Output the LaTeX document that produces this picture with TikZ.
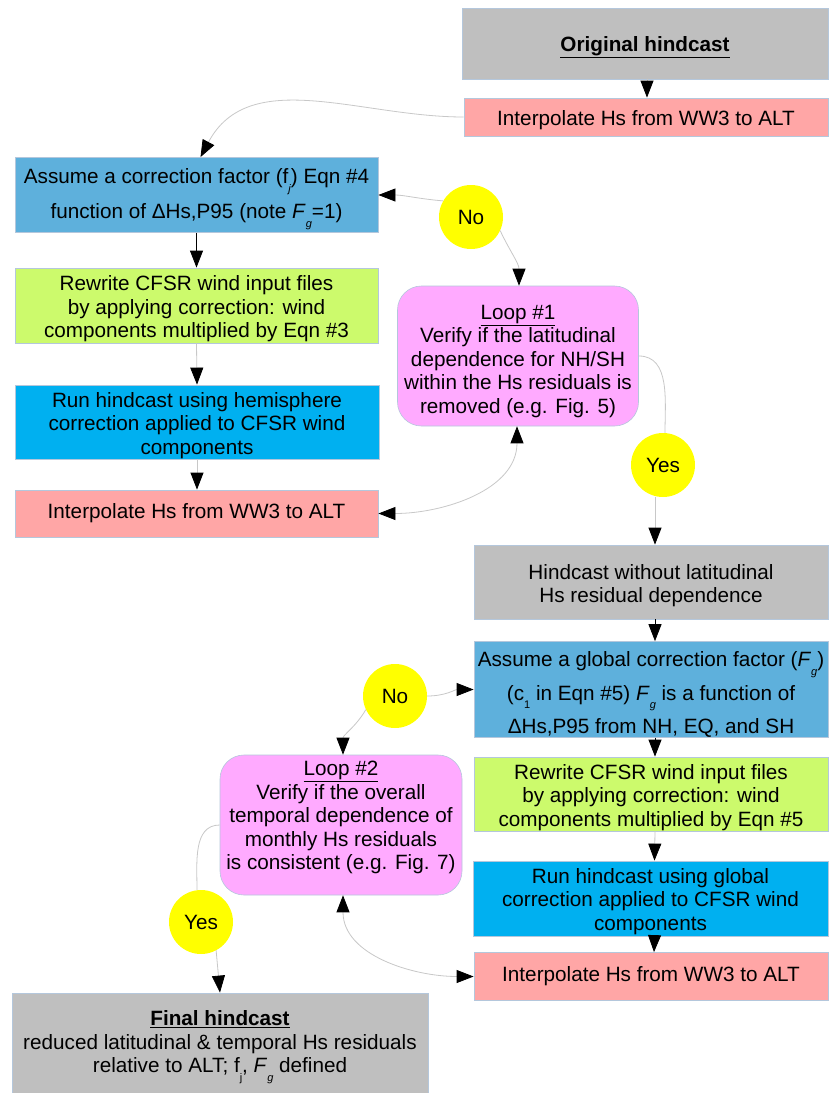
\documentclass[tikz,border=0pt]{standalone}
\usepackage{fontspec}
\setmainfont{Liberation Sans}
\usetikzlibrary{arrows.meta}
\definecolor{bgray}{RGB}{191,191,191}
\definecolor{bpink}{RGB}{255,166,166}
\definecolor{bblue}{RGB}{94,176,220}
\definecolor{bgreen}{RGB}{204,250,108}
\definecolor{bcyan}{RGB}{0,176,240}
\definecolor{bmag}{RGB}{255,170,255}
\definecolor{byel}{RGB}{255,255,0}
\definecolor{edgeblue}{RGB}{180,199,220}
\definecolor{lgray}{RGB}{200,200,200}
\newcommand\subs[1]{\raisebox{-0.42em}{\fontsize{11}{11}\selectfont #1}}
\newcommand\tdn[1]{\rule{0pt}{#1}}
\begin{document}
\begin{tikzpicture}[x=1pt,y=1pt,
  every node/.style={font=\fontsize{20.7pt}{23.5pt}\selectfont, align=center, inner sep=0pt},
  box/.style={rectangle, draw=edgeblue, line width=0.8pt},
  loopbox/.style={rectangle, rounded corners=24pt, draw=edgeblue, line width=0.6pt, fill=bmag, minimum width=241pt, minimum height=140pt},
  dec/.style={circle, fill=byel, minimum size=64pt},
  con/.style={draw=lgray, line width=0.8pt, -{Triangle[length=17pt,width=13pt,color=black]}},
  dcon/.style={draw=lgray, line width=0.8pt, {Triangle[length=17pt,width=13pt,color=black]}-{Triangle[length=17pt,width=13pt,color=black]}},
  bcon/.style={con, draw=black},
  lnk/.style={draw=lgray, line width=0.8pt}]
\useasboundingbox (0,0) rectangle (828,-1093);
\fill[white] (0,0) rectangle (828,-1093);
% right column top
\node[box, fill=bgray, minimum width=366pt, minimum height=71pt] (orig) at (645,-43.5) {\tdn{23pt}\underline{\textbf{Original hindcast}}};
\node[box, fill=bpink, minimum width=364pt, minimum height=38pt] (itop) at (646,-117) {\tdn{21pt}Interpolate Hs from WW3 to ALT};
% left column
\node[box, fill=bblue, minimum width=363pt, minimum height=75pt] (a1) at (196.5,-195) {\tdn{23pt}Assume a correction factor (f\subs{\itshape j}) Eqn \#4\\[8pt]function of ΔHs,P95 (note \textit{F}\subs{\itshape g}=1)};
\node[box, fill=bgreen, minimum width=363pt, minimum height=75pt] (r1) at (196.5,-305.5) {\tdn{22pt}Rewrite CFSR wind input files\\by applying correction: wind\\components multiplied by Eqn \#3};
\node[box, fill=bcyan, minimum width=364pt, minimum height=74pt] (h1) at (197,-422) {\tdn{22pt}Run hindcast using hemisphere\\correction applied to CFSR wind\\components};
\node[box, fill=bpink, minimum width=363pt, minimum height=47pt] (i1) at (196.5,-513.5) {Interpolate Hs from WW3 to ALT};
% loop 1
\node[dec] (no1) at (471,-217) {No};
\node[loopbox] (loop1) at (518,-356) {\tdn{25pt}\underline{Loop \#1}\\Verify if the latitudinal\\dependence for NH/SH\\within the Hs residuals is\\removed (e.g. Fig. 5)};
\node[dec] (yes1) at (663,-465) {Yes};
% right column lower
\node[box, fill=bgray, minimum width=354pt, minimum height=74pt] (hw) at (651,-582) {\tdn{22pt}Hindcast without latitudinal\\Hs residual dependence};
\node[box, fill=bblue, minimum width=354pt, minimum height=85pt] (a2) at (651,-689.5) {\tdn{25pt}Assume a global correction factor (\textit{F}\subs{\itshape g})\\[6.5pt](c\subs{1} in Eqn \#5) \textit{F}\subs{\itshape g} is a function of\\[6.5pt]ΔHs,P95 from NH, EQ, and SH};
\node[box, fill=bgreen, minimum width=354pt, minimum height=74pt] (r2) at (651,-794) {\tdn{22pt}Rewrite CFSR wind input files\\by applying correction: wind\\components multiplied by Eqn \#5};
\node[box, fill=bcyan, minimum width=355pt, minimum height=75pt] (h2) at (650.5,-898.5) {\tdn{21pt}Run hindcast using global\\correction applied to CFSR wind\\components};
\node[box, fill=bpink, minimum width=354pt, minimum height=48pt] (i2) at (651,-976.5) {Interpolate Hs from WW3 to ALT};
% loop 2
\node[dec] (no2) at (395,-696) {No};
\node[loopbox, minimum width=242pt] (loop2) at (341,-825) {\tdn{19pt}\underline{Loop \#2}\\Verify if the overall\\temporal dependence of\\monthly Hs residuals\\is consistent (e.g. Fig. 7)\\\mbox{}};
\node[dec] (yes2) at (201,-922) {Yes};
\node[box, fill=bgray, minimum width=416pt, minimum height=100pt] (fin) at (220,-1043) {\tdn{23pt}\underline{\textbf{Final hindcast}}\\reduced latitudinal \& temporal Hs residuals\\relative to ALT; f\subs{j}, \textit{F}\subs{\itshape g} defined};
% connectors
\draw[con] ([xshift=2pt]orig.south) -- ([xshift=1pt]itop.north);
\draw[con] (itop.west) to[out=180,in=62] ([xshift=4pt]a1.north);
\draw[bcon] (a1.south) -- (r1.north);
\draw[con] (r1.south) -- (h1.north);
\draw[con] (h1.south) -- ([xshift=0.5pt]i1.north);
\draw[con] (no1.150) to[out=175,in=0] (a1.east);
\draw[con] (no1.-25) to[out=-65,in=90] ([xshift=1pt]loop1.north);
\draw[lnk] (loop1.east) to[out=0,in=90] ([xshift=2pt]yes1.north);
\draw[dcon] (i1.east) to[out=0,in=-90] ([xshift=-1pt]loop1.south);
\draw[con] ([xshift=-8pt]yes1.south) -- ([xshift=4pt]hw.north);
\draw[bcon] ([xshift=4pt]hw.south) -- ([xshift=4pt]a2.north);
\draw[bcon] ([xshift=4pt]a2.south) -- ([xshift=4pt]r2.north);
\draw[con] ([xshift=4pt]r2.south) -- ([xshift=4pt]h2.north);
\draw[con] ([xshift=4pt]h2.south) -- ([xshift=3pt]i2.north);
\draw[con] (no2.east) to[out=0,in=180] (a2.west);
\draw[con] (no2.205) to[out=240,in=90] ([xshift=2pt]loop2.north);
\draw[lnk] (loop2.west) to[out=180,in=90] ([xshift=-4pt]yes2.north);
\draw[dcon] (i2.west) to[out=180,in=-90] ([xshift=2pt]loop2.south);
\draw[con] (yes2.-62) -- (fin.north);
\end{tikzpicture}
\end{document}
